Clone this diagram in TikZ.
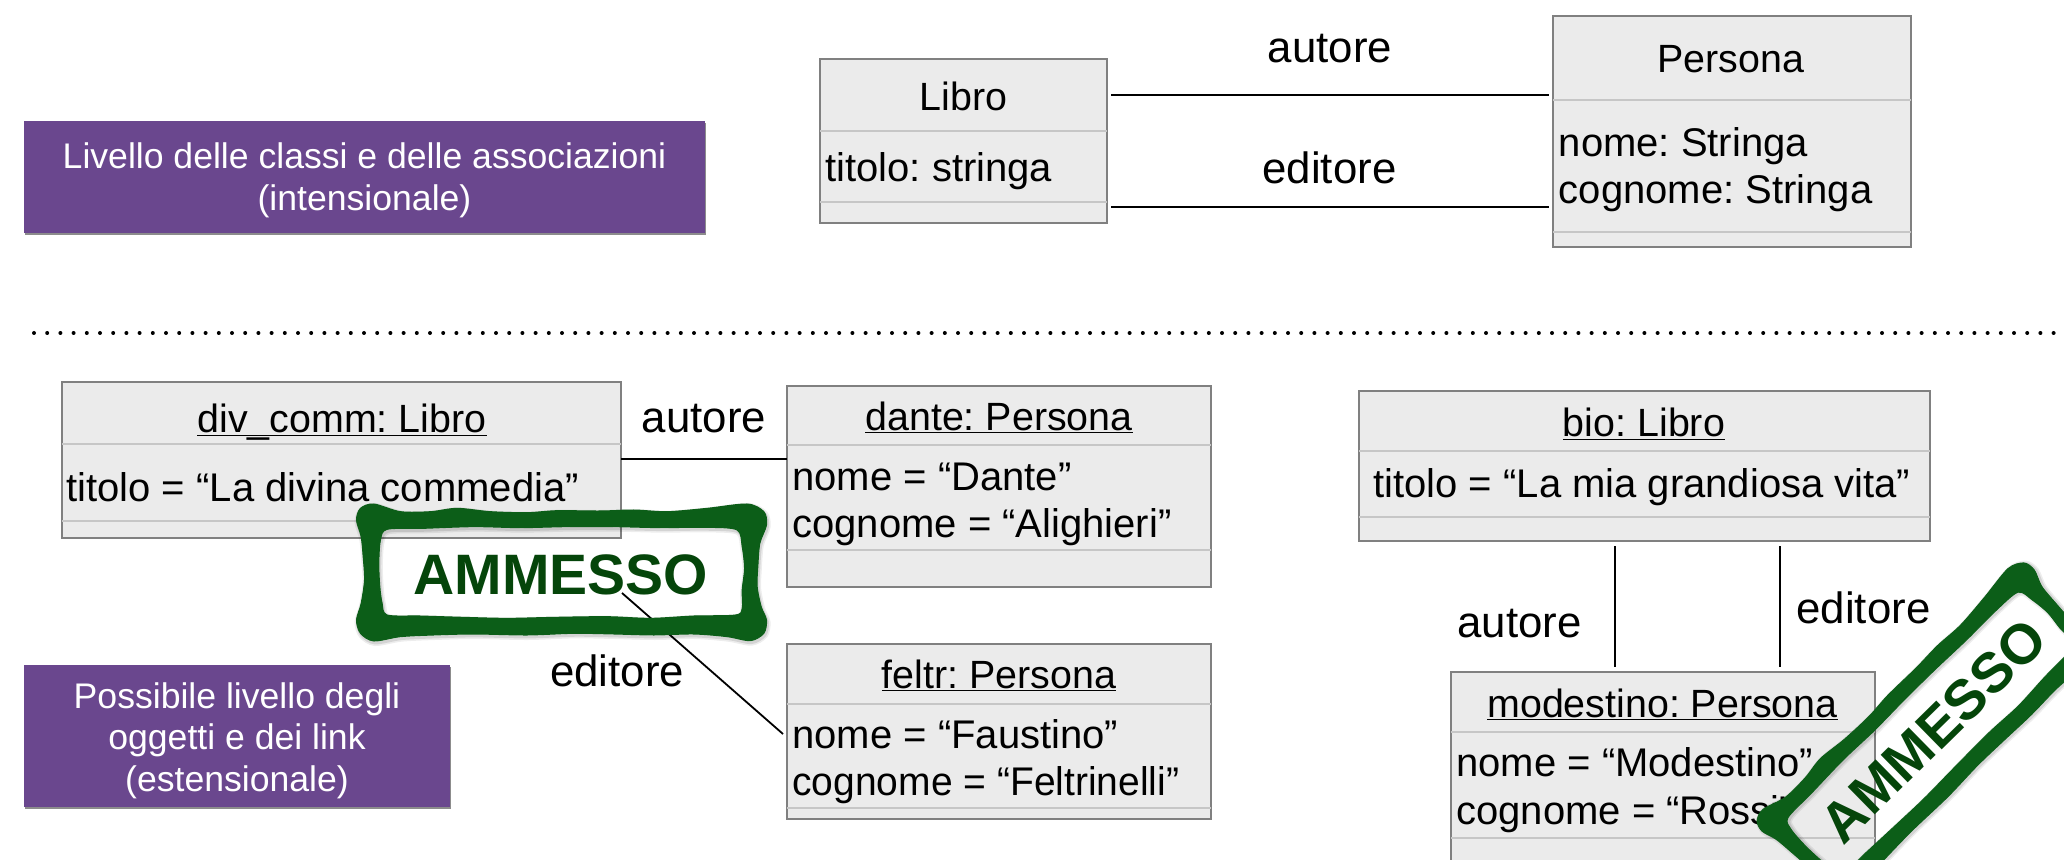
\documentclass[tikz,border=0pt]{standalone}
\usepackage{fontspec}
\usepackage{graphicx}
\setmainfont{Liberation Sans}
\usetikzlibrary{shadows}
\definecolor{boxfill}{HTML}{EBEBEB}
\definecolor{boxline}{HTML}{808080}
\definecolor{divline}{HTML}{C6C6C6}
\definecolor{labelpurple}{HTML}{6A478E}
\definecolor{stampgreen}{HTML}{0C5E18}
\definecolor{stampdark}{HTML}{05450A}
\tikzset{
  umlframe/.style={draw=boxline,fill=boxfill,line width=.6pt,inner sep=0pt,outer sep=0pt},
  divider/.style={draw=divline,line width=.6pt},
  umlcap/.style={anchor=base,inner sep=0pt,font=\fontsize{19.7}{24}\selectfont},
  umlattr/.style={anchor=base west,inner sep=0pt,font=\fontsize{20}{24}\selectfont},
  assoclabel/.style={anchor=base,inner sep=0pt,font=\fontsize{21.9}{26}\selectfont},
  assoc/.style={draw=black,line width=.9pt},
  purplebox/.style={fill=labelpurple,inner sep=0pt,outer sep=0pt,
     drop shadow={shadow xshift=.4pt,shadow yshift=-.9pt,fill=black,opacity=.45}},
  purpletext/.style={anchor=base,inner sep=0pt,text=white,font=\fontsize{17.8}{21}\selectfont},
  stamptext/.style={anchor=base,inner sep=0pt,text=stampdark,transform shape},
}
\newcommand{\umlbox}[7]{%
  \node[umlframe,minimum width={(#4-#2)*0.5pt},minimum height={(#5-#3)*0.5pt}] (#1) at ({(#2+#4)/2},{(#3+#5)/2}) {};
  \draw[divider] (#1.west |- 0,#6) -- (#1.east |- 0,#6);
  \draw[divider] (#1.west |- 0,#7) -- (#1.east |- 0,#7);
}
\newcommand{\purple}[5]{%
  \node[purplebox,minimum width={(#4-#2)*0.5pt},minimum height={(#5-#3)*0.5pt}] (#1) at ({(#2+#4)/2},{(#3+#5)/2}) {};
}
\newcommand{\ulx}[1]{\underline{\smash{#1}}}
\newcommand{\stampframe}{%
  plot[smooth cycle] coordinates {(100,72)(180,95)(270,95)(350,85)(450,95)(560,98)(650,92)(780,93)(880,90)(980,95)(1100,85)(1220,72)(1270,95)(1278,135)(1258,190)(1252,260)(1250,320)(1262,380)(1278,420)(1270,460)(1230,482)(1160,470)(1060,462)(940,465)(820,462)(700,460)(560,465)(400,462)(280,465)(180,470)(100,483)(60,460)(48,420)(62,370)(72,300)(68,230)(62,170)(48,120)(60,85)}
  plot[smooth cycle] coordinates {(140,148)(250,145)(400,140)(540,143)(680,140)(820,140)(960,143)(1100,142)(1190,150)(1205,200)(1212,265)(1205,330)(1205,385)(1185,405)(1060,408)(930,415)(800,410)(640,412)(500,415)(370,412)(240,408)(140,405)(125,370)(118,320)(115,250)(120,180)}%
}
\newcommand{\stamp}[7]{%
  \begin{scope}[shift={(#2,#3)},rotate=#4,scale=#5]
    \begin{scope}[x=.16667pt,y=-.16667pt,shift={(-663,-276)}]
      \draw[black,opacity=.07,line width=3pt,shift={(3,6)}] \stampframe;
      \draw[black,opacity=.10,line width=1.4pt,shift={(3,6)}] \stampframe;
      \filldraw[fill=stampgreen,draw=stampgreen,line width=.5pt,even odd rule] \stampframe;
      \node[stamptext,font=\fontsize{#6}{#6}\selectfont\bfseries] (#1) at (#7,342) {AMMESSO};
    \end{scope}
  \end{scope}
}
\begin{document}
\frenchspacing
\begin{tikzpicture}[x=.5pt,y=-.5pt]
\useasboundingbox (0,0) rectangle (2064,860);
\clip (0,0) rectangle (2064,860);
\fill[white] (0,0) rectangle (2064,860);

% purple labels
\purple{lab1}{24}{121}{705}{233}
\node[purpletext] (lab1a) at (364.5,168.5) {Livello delle classi e delle associazioni};
\node[purpletext] (lab1b) at (364.5,210.5) {(intensionale)};
\purple{lab2}{24}{665}{450}{807}
\node[purpletext] (lab2a) at (237,708) {Possibile livello degli};
\node[purpletext] (lab2b) at (237,749) {oggetti e dei link};
\node[purpletext] (lab2c) at (237,791) {(estensionale)};

% dotted separator
\coordinate (sepL) at (34,333);
\coordinate (sepR) at (2064,333);
\draw[line width=2pt,line cap=round,dash pattern=on 0pt off 6.6pt] (sepL) -- (sepR);

% class level
\umlbox{libro}{820}{59}{1107}{223}{131}{202}
\node[umlcap] (libroT) at (963.5,111) {Libro};
\node[umlattr] (libroA) at (825,182) {titolo: stringa};
\umlbox{persona}{1553}{16}{1911}{247}{100}{232}
\node[umlcap] (personaT) at (1731,72.5) {Persona};
\node[umlattr] (personaA) at (1558.5,156.5) {nome: Stringa};
\node[umlattr] (personaB) at (1558.5,204) {cognome: Stringa};
\draw[assoc] ([xshift=2pt]libro.east |- 0,95) -- ([xshift=-2pt]persona.west |- 0,95);
\draw[assoc] ([xshift=2pt]libro.east |- 0,207) -- ([xshift=-2pt]persona.west |- 0,207);
\node[assoclabel] (la1) at (1330,63) {autore};
\node[assoclabel] (la2) at (1329.5,184) {editore};

% first object level
\umlbox{divcomm}{62}{382}{621}{538}{444}{521}
\node[umlcap] (divT) at (342,433) {\ulx{div\_comm: Libro}};
\node[umlattr] (divA) at (66,501.5) {titolo = “La divina commedia”};
\umlbox{dante}{787}{386}{1211}{587}{445}{550}
\node[umlcap] (danteT) at (999,430) {\ulx{dante: Persona}};
\node[umlattr] (danteA) at (792,490) {nome = “Dante”};
\node[umlattr] (danteB) at (792,537) {cognome = “Alighieri”};
\umlbox{feltr}{787}{644}{1211}{819}{704}{808}
\node[umlcap] (feltrT) at (999,688) {\ulx{feltr: Persona}};
\node[umlattr] (feltrA) at (792,748) {nome = “Faustino”};
\node[umlattr] (feltrB) at (792,795) {\scalebox{.975}[1]{cognome = “Feltrinelli”}};
\draw[assoc] (divcomm.east |- 0,459) -- (dante.west |- 0,459);
\coordinate (editstart) at (622,593);
\draw[assoc] (editstart) -- ([xshift=-2pt]feltr.west |- 0,734);
\node[assoclabel] (lb1) at (704,433) {autore};
\node[assoclabel] (lb2) at (617,686.5) {editore};

% second object level
\umlbox{bio}{1359}{391}{1930}{541}{451}{517}
\node[umlcap] (bioT) at (1644,437) {\ulx{bio: Libro}};
\node[umlattr] (bioA) at (1373,497.5) {titolo = “La mia grandiosa vita”};
\umlbox{modestino}{1451}{672}{1875}{884}{732}{838}
\node[umlcap] (modT) at (1662.5,717) {\ulx{modestino: Persona}};
\node[umlattr] (modA) at (1456,776.5) {nome = “Modestino”};
\node[umlattr] (modB) at (1456,824) {cognome = “Rossi”};
\draw[assoc] ([yshift=-2.5pt]bio.south -| 1615,0) -- ([yshift=2.5pt]modestino.north -| 1615,0);
\draw[assoc] ([yshift=-2.5pt]bio.south -| 1780,0) -- ([yshift=2.5pt]modestino.north -| 1780,0);
\node[assoclabel] (lc1) at (1519.5,637) {autore};
\node[assoclabel] (lc2) at (1863.5,623) {editore};

% stamps
\stamp{stampA}{561.5}{572}{0}{1}{28.5}{661}
\stamp{stampB}{1930}{733}{44.5}{.92}{30.5}{676}
\end{tikzpicture}
\end{document}
